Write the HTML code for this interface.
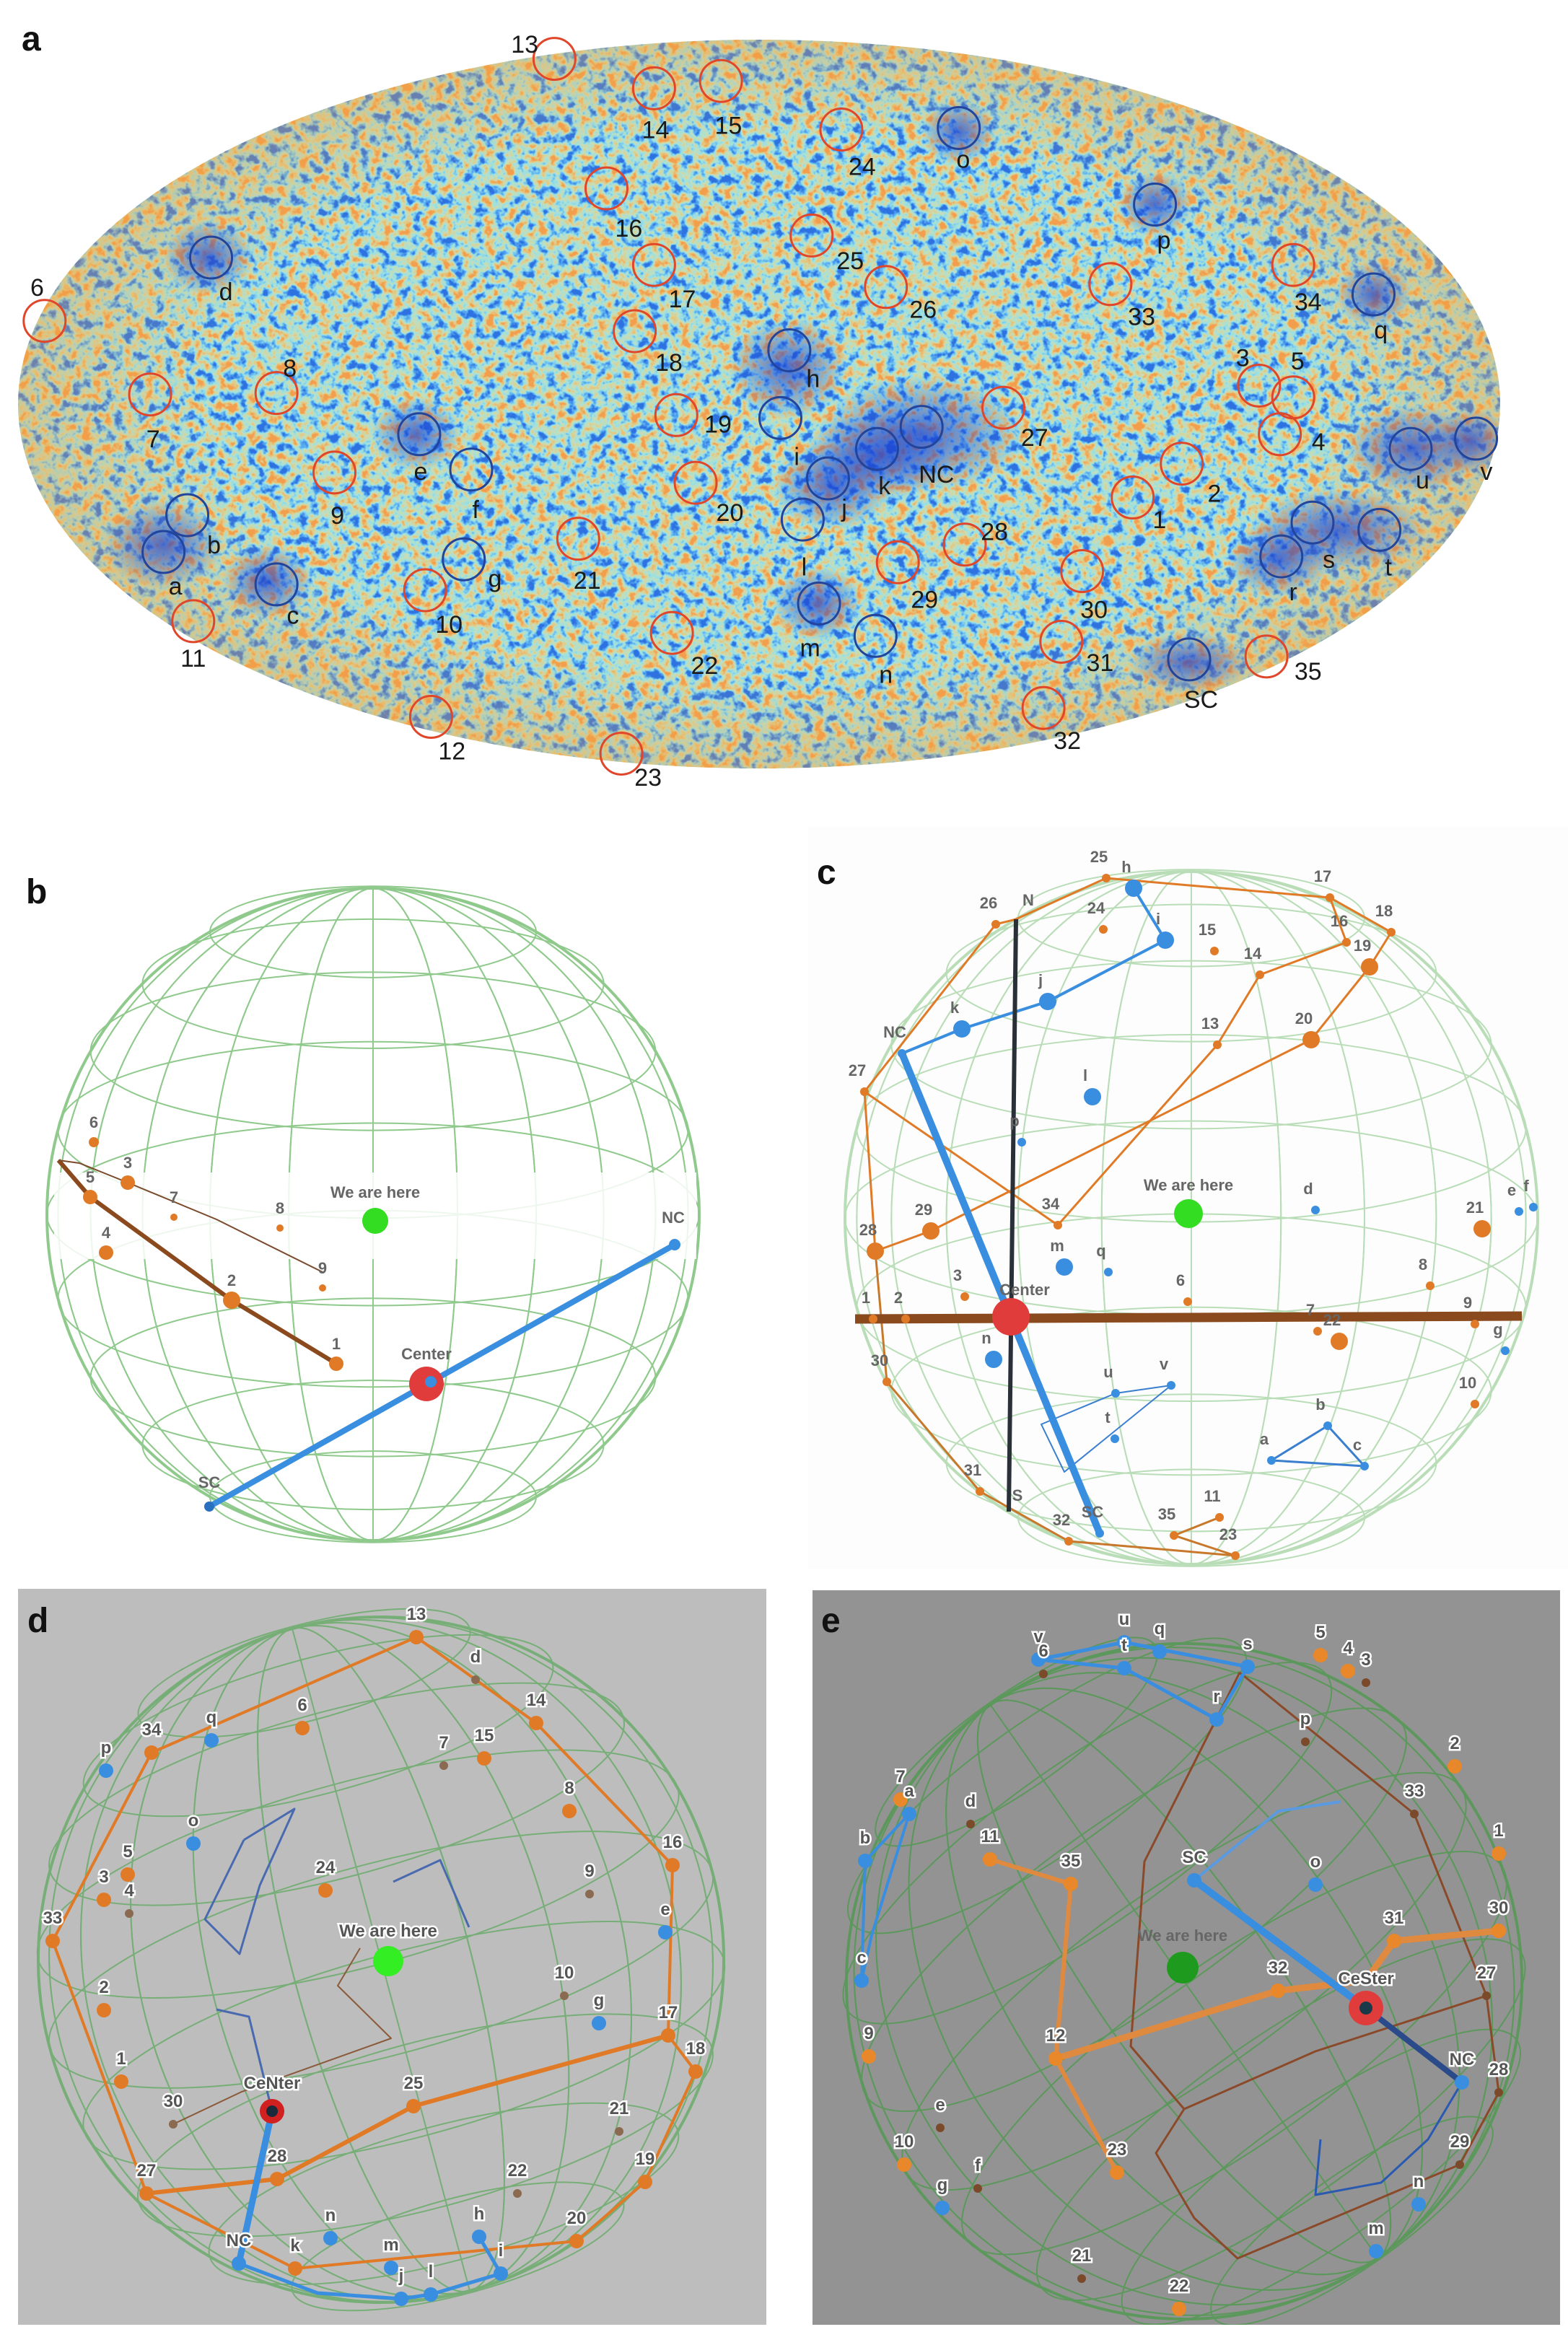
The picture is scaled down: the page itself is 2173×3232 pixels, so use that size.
<!DOCTYPE html>
<html><head><meta charset="utf-8"><title>Cosmic structure figure</title>
<style>
html,body{margin:0;padding:0;background:#fff;width:2173px;height:3232px;overflow:hidden;}
svg{display:block;font-family:"Liberation Sans",Arial,sans-serif;}
.lbl{font-size:34px;fill:#1a1a1a;}
.pl{font-weight:bold;font-size:48px;fill:#111;}
.sl{font-size:22px;fill:#666;font-weight:bold;}
.wl{font-size:24px;font-weight:bold;fill:#555;stroke:#fff;stroke-width:5px;paint-order:stroke;}
</style></head><body>
<svg id="fig" width="2173" height="3232" viewBox="0 0 2173 3232" xmlns="http://www.w3.org/2000/svg" style="overflow:hidden">
<defs>
<filter id="cmb" x="0" y="0" width="100%" height="100%" color-interpolation-filters="sRGB">
<feTurbulence type="fractalNoise" baseFrequency="0.07" numOctaves="3" seed="7" result="n"/>
<feColorMatrix type="matrix" values="1 0 0 0 0 1 0 0 0 0 1 0 0 0 0 0 0 0 0 1"/>
<feComponentTransfer><feFuncR type="linear" slope="2.2" intercept="-0.6"/><feFuncG type="linear" slope="2.2" intercept="-0.6"/><feFuncB type="linear" slope="2.2" intercept="-0.6"/></feComponentTransfer>
<feComponentTransfer>
<feFuncR type="table" tableValues="0.18 0.35 0.6 0.78 0.9 0.95"/>
<feFuncG type="table" tableValues="0.45 0.68 0.88 0.87 0.78 0.62"/>
<feFuncB type="table" tableValues="0.88 0.95 0.9 0.72 0.5 0.3"/>
<feFuncA type="table" tableValues="1 1"/>
</feComponentTransfer>
</filter>
<clipPath id="ellclip"><ellipse cx="1052" cy="560" rx="1027" ry="505"/></clipPath>
<clipPath id="clipD"><rect x="25" y="2202" width="1037" height="1020"/></clipPath>
<clipPath id="clipE"><rect x="1126" y="2204" width="1036" height="1018"/></clipPath>
<radialGradient id="dblue"><stop offset="0" stop-color="#1c3fd0" stop-opacity="0.7"/><stop offset="1" stop-color="#1c3fd0" stop-opacity="0"/></radialGradient>
<radialGradient id="oring" cx="0.5" cy="0.5" r="0.5"><stop offset="0.75" stop-color="#f0a040" stop-opacity="0"/><stop offset="1" stop-color="#f0a040" stop-opacity="0.35"/></radialGradient>
</defs>
<rect width="2173" height="3232" fill="#fff"/>
<g id="panelA">
 <g clip-path="url(#ellclip)">
  <rect x="25" y="55" width="2055" height="1012" filter="url(#cmb)"/>
  <ellipse cx="1052" cy="560" rx="1027" ry="505" fill="url(#oring)"/>
  <g id="blobs"></g>
 </g>
 <text x="30" y="70" class="pl">a</text>
 <g id="circlesA"></g>
</g>
<g id="panelB">
 <text x="36" y="1252" class="pl">b</text>
</g>
<rect x="1120" y="1145" width="1053" height="1030" fill="#fdfdfd"/>
<g id="panelC">
 <text x="1132" y="1225" class="pl">c</text>
</g>
<rect x="25" y="2202" width="1037" height="1020" fill="#bdbdbd"/>
<g id="panelD" clip-path="url(#clipD)">
 <text x="38" y="2262" class="pl">d</text>
</g>
<rect x="1126" y="2204" width="1036" height="1018" fill="#939393"/>
<g id="panelE" clip-path="url(#clipE)">
 <text x="1138" y="2262" class="pl">e</text>
</g>
</svg>
<script>
const NS="http://www.w3.org/2000/svg";
function mk(tag,attrs,parent){const e=document.createElementNS(NS,tag);for(const k in attrs)e.setAttribute(k,attrs[k]);parent.appendChild(e);return e;}

// ---- Panel a data (displayed-scale coordinates) ----
const redNames=["13","14","15","24","16","25","17","26","33","34","6","18","7","8","3","5","4","27","19","9","2","20","1","21","28","29","30","10","11","22","31","35","32","12","23"];
const redPos=[[373,40],[440,60],[485,55],[566,88],[408,128],[546,160],[440,180],[596,195],[747,193],[870,180],[30,218],[427,225],[101,268],[186,267],[847,262],[870,270],[861,295],[675,277],[455,282],[225,321],[795,315],[468,328],[762,338],[389,366],[649,370],[604,382],[728,388],[286,401],[130,422],[452,430],[714,436],[852,446],[702,481],[290,487],[418,512]];
const redLbl=[[353,30],[441,88],[490,85],[580,113],[423,155],[572,177],[459,203],[621,210],[768,215],[880,205],[25,195],[450,246],[103,298],[195,250],[836,243],[873,245],[887,300],[696,297],[483,288],[227,350],[817,335],[491,348],[780,353],[395,394],[669,361],[622,407],[736,414],[302,424],[130,447],[474,452],[740,450],[880,456],[718,503],[304,510],[436,528]];
const blueNames=["o","p","d","q","h","i","NC","k","j","u","v","e","f","b","a","s","t","r","l","g","c","m","n","SC"];
const bluePos=[[645,87],[777,139],[142,175],[924,200],[531,238],[525,284],[620,290],[590,305],[557,325],[949,305],[993,298],[282,295],[317,319],[126,350],[110,375],[883,355],[928,360],[862,378],[540,353],[312,380],[186,397],[551,410],[589,432],[800,448]];
const blueLbl=[[648,108],[783,163],[152,198],[929,224],[547,257],[536,310],[630,322],[595,330],[568,345],[957,326],[1000,320],[283,320],[320,346],[144,370],[118,398],[894,380],[934,385],[870,402],[541,385],[333,393],[197,418],[545,440],[596,458],[808,475]];
const blobPos=[[620,295,70,40],[590,310,50,30],[560,330,40,30],[530,250,40,35],[950,305,45,30],[900,360,60,28],[860,380,35,25],[800,450,40,20],[110,370,40,30],[180,395,30,25],[280,295,30,25],[550,410,30,25],[990,300,25,22],[140,175,30,25],[645,90,25,22],[777,139,25,22],[924,200,25,22]];
const SX=2.06, SY=2.04;
const blobs=document.getElementById('blobs');
blobPos.forEach(b=>{const e=mk('ellipse',{cx:b[0]*SX,cy:b[1]*SY,rx:b[2]*SX,ry:b[3]*SY,fill:'url(#dblue)'},blobs);

});
const cA=document.getElementById('circlesA');
redNames.forEach((n,i)=>{const c=mk('circle',{cx:redPos[i][0]*SX,cy:redPos[i][1]*SY,r:29,fill:'none',stroke:'#e0462a','stroke-width':3},cA);


const t=mk('text',{x:redLbl[i][0]*SX,y:redLbl[i][1]*SY+12,'text-anchor':'middle',class:'lbl'},cA);t.textContent=n;

});
blueNames.forEach((n,i)=>{const c=mk('circle',{cx:bluePos[i][0]*SX,cy:bluePos[i][1]*SY,r:29,fill:'none',stroke:'#22449a','stroke-width':3},cA);


const t=mk('text',{x:blueLbl[i][0]*SX,y:blueLbl[i][1]*SY+12,'text-anchor':'middle',class:'lbl'},cA);t.textContent=n;

});

// ---- sphere grid ----
function grid(parent,cx,cy,r,rot,col,op){
 const g=mk('g',{transform:`rotate(${rot} ${cx} ${cy})`,fill:'none',stroke:col,'stroke-width':2,opacity:op},parent);
 
 
 mk('circle',{cx:cx,cy:cy,r:r,'stroke-width':4},g);
 for(let k=1;k<12;k++){const a=k*Math.PI/12;mk('ellipse',{cx:cx,cy:cy,rx:Math.abs(r*Math.cos(a)),ry:r},g);}
 for(let k=-4;k<=4;k++){const a=k*Math.PI/12;const y=cy+r*Math.sin(a);const rx=r*Math.cos(a);
  mk('ellipse',{cx:cx,cy:y,rx:rx,ry:rx*0.28},g);}
}
function dot(parent,x,y,r,col,name){const c=mk('circle',{cx:x,cy:y,r:r,fill:col},parent);
 
 }
function line(parent,pts,col,w,name){const p=mk('polyline',{points:pts.map(q=>q.join(',')).join(' '),fill:'none',stroke:col,'stroke-width':w,'stroke-linejoin':'round'},parent);
 
 }
function txt(parent,x,y,s,cls,name){const t=mk('text',{x:x,y:y,'text-anchor':'middle',class:cls},parent);t.textContent=s;
 
 }

// ---- Panel b ----
const pB=document.getElementById('panelB');
grid(pB,517,1683,452,0,'#6ab866',0.75);
mk('rect',{x:75,y:1625,width:890,height:120,fill:'#fff',opacity:0.85},pB);
const bNames=["6","5","3","7","4","8","9","2","1"];
const bPts=[[130,1583],[125,1659],[177,1639],[241,1687],[147,1736],[388,1702],[447,1785],[321,1802],[466,1890]];
const bSize=[7,10,10,5,10,5,5,12,10];
line(pB,[[81,1608],[125,1659],[321,1802],[466,1890]],'#8a4a1e',6,'brown-thick-curve');
line(pB,[[81,1608],[110,1612],[177,1639],[300,1690],[449,1764]],'#7a4a2a',2,'brown-thin-curve');
bNames.forEach((n,i)=>{dot(pB,bPts[i][0],bPts[i][1],bSize[i],'#e07a26','point-'+n);txt(pB,bPts[i][0],bPts[i][1]-20,n,'sl','point-label-'+n);});
line(pB,[[290,2088],[935,1725]],'#3a8ee0',8,'sc-nc-axis');
dot(pB,591,1918,24,'#e03c3c','center-marker');dot(pB,597,1915,8,'#3a8ee0','center-core');
dot(pB,290,2088,7,'#2a70c0','sc-point');dot(pB,935,1725,8,'#3a8ee0','nc-point');
txt(pB,591,1884,'Center','sl','center-label');txt(pB,290,2062,'SC','sl','sc-label');txt(pB,933,1695,'NC','sl','nc-label');
dot(pB,520,1692,18,'#33dd22','we-are-here-marker');txt(pB,520,1660,'We are here','sl','we-are-here-label');

// ---- Panel c ----
const pC=document.getElementById('panelC');
grid(pC,1651,1688,480,0,'#8cc88a',0.6);
const cNames=["25","h","i","17","16","18","19","20","26","NC","k","j","27","28","29","34","13","14","15","24","l","p","m","q","6","3","d","21","e","f","8","9","22","7","g","10","30","n","31","32","SC","35","11","23","u","v","t","a","b","c","1","2"];
const cPts=[[1533,1217],[1571,1231],[1615,1303],[1843,1244],[1866,1306],[1928,1292],[1898,1340],[1817,1441],[1380,1281],[1250,1460],[1333,1426],[1452,1388],[1198,1513],[1213,1734],[1290,1706],[1466,1698],[1687,1448],[1746,1351],[1683,1318],[1529,1288],[1514,1520],[1416,1583],[1475,1756],[1536,1763],[1646,1804],[1337,1797],[1823,1677],[2054,1703],[2105,1679],[2125,1673],[1982,1782],[2044,1835],[1856,1859],[1826,1845],[2086,1872],[2044,1946],[1229,1915],[1377,1884],[1358,2067],[1481,2136],[1524,2125],[1627,2128],[1690,2103],[1712,2156],[1546,1931],[1623,1920],[1545,1994],[1762,2024],[1840,1976],[1891,2032],[1210,1828],[1255,1828]];
const cBlue="h i NC k j l p m q d e f g n SC u v t a b c".split(" ");
const cBig=["h","i","k","j","l","m","n","20","29","28","22","21","19"];
line(pC,[[1198,1513],[1380,1281],[1408,1274],[1533,1217],[1843,1244],[1928,1292],[1898,1340],[1817,1441],[1290,1706],[1213,1734],[1198,1513],[1466,1698],[1687,1448],[1746,1351],[1866,1306],[1843,1244]],'#e07a26',3,'orange-path-top');
line(pC,[[1213,1734],[1229,1915],[1358,2067],[1481,2136],[1712,2156],[1627,2128],[1690,2103]],'#c8782a',3,'orange-path-bottom');
line(pC,[[1250,1460],[1333,1426],[1452,1388],[1615,1303],[1571,1231]],'#3a8ee0',4,'blue-path-nc');
line(pC,[[1546,1931],[1623,1920],[1475,2040],[1443,1974],[1546,1931]],'#3a7ed0',2,'blue-path-uvt');
line(pC,[[1762,2024],[1840,1976],[1891,2032],[1762,2024]],'#3a7ed0',3,'blue-path-abc');
line(pC,[[1185,1828],[2109,1824]],'#8a4a1e',13,'brown-equator-bar');
line(pC,[[1408,1274],[1398,2095]],'#2a3038',6,'north-south-axis');
line(pC,[[1250,1460],[1524,2125]],'#3a8ee0',10,'nc-sc-axis');
cNames.forEach((n,i)=>{const b=cBlue.includes(n);dot(pC,cPts[i][0],cPts[i][1],cBig.includes(n)?12:6,b?'#3a8ee0':'#e07a26','point-'+n);txt(pC,cPts[i][0]-10,cPts[i][1]-22,n,'sl','point-label-'+n);});
dot(pC,1401,1825,26,'#e03c3c','center-marker');txt(pC,1420,1795,'Center','sl','center-label');
txt(pC,1425,1255,'N','sl','n-label');txt(pC,1410,2080,'S','sl','s-label');
dot(pC,1647,1682,20,'#33dd22','we-are-here-marker');txt(pC,1647,1650,'We are here','sl','we-are-here-label');

// ---- Panel d ----
const pD=document.getElementById('panelD');
grid(pD,528,2716,475,-15,'#5aa85a',0.7);
const dNames=["13","d","14","34","q","6","p","15","7","8","o","16","24","5","3","4","9","e","33","10","2","g","17","18","1","25","30","21","28","19","27","22","NC","n","h","20","k","m","j","l","i"];
const dPts=[[577,2269],[659,2328],[743,2388],[210,2429],[293,2412],[419,2395],[147,2454],[671,2437],[615,2447],[789,2510],[268,2555],[932,2585],[451,2620],[177,2598],[144,2633],[179,2652],[817,2625],[922,2678],[73,2690],[782,2766],[144,2786],[830,2804],[926,2821],[964,2871],[168,2885],[573,2919],[240,2944],[858,2954],[384,3020],[894,3024],[203,3040],[717,3040],[331,3137],[458,3102],[664,3100],[799,3106],[409,3144],[542,3143],[556,3186],[597,3180],[694,3151]];
const dBlue="q p o e g NC n h m j l i".split(" ");
const dOr="13 14 34 15 16 24 33 17 18 25 28 19 27 20 k 6 8 5 3 2 1".split(" ");
line(pD,[[577,2269],[743,2388],[932,2585],[926,2821],[964,2871],[894,3024],[799,3106],[409,3144],[203,3040],[73,2690],[210,2429],[577,2269]],'#e07a26',4,'orange-outline-loop');
line(pD,[[203,3040],[384,3020],[573,2919],[926,2821]],'#e07a26',6,'orange-cross-path');
line(pD,[[240,2944],[335,2899],[542,2825],[468,2752],[499,2700]],'#8a5a3a',2,'brown-path');
line(pD,[[338,2550],[408,2507],[360,2613],[332,2708],[284,2660],[338,2550]],'#4a6ab0',3,'blue-path-uvr');
line(pD,[[545,2608],[610,2578],[650,2671]],'#4a6ab0',3,'blue-path-abc');
line(pD,[[300,2785],[345,2795],[377,2926]],'#4a6ab0',3,'blue-path-sc');
line(pD,[[377,2926],[331,3137]],'#3a8ee0',9,'center-nc-axis');
line(pD,[[331,3137],[440,3178],[556,3186],[597,3180],[694,3151],[664,3100]],'#3a8ee0',5,'blue-path-bottom');
dNames.forEach((n,i)=>{const b=dBlue.includes(n);const o=dOr.includes(n);dot(pD,dPts[i][0],dPts[i][1],(b||o)?10:6,b?'#3a8ee0':(o?'#e07a26':'#8a6a50'),'point-'+n);txt(pD,dPts[i][0],dPts[i][1]-24,n,'wl','point-label-'+n);});
dot(pD,377,2926,17,'#d02020','center-marker');dot(pD,377,2926,8,'#1a2a3a','center-core');txt(pD,377,2895,'CeNter','wl','center-label');
dot(pD,538,2718,21,'#33ee22','we-are-here-marker');txt(pD,538,2684,'We are here','wl','we-are-here-label');

// ---- Panel e ----
const pE=document.getElementById('panelE');
grid(pE,1641,2746,468,-35,'#4a9a4a',0.75);
const eNames=["v","u","s","r","t","q","6","5","4","3","2","1","30","33","27","28","29","n","m","22","21","10","g","f","e","9","d","7","a","b","c","o","p","11","35","12","23","32","31","SC","NC"];
const ePts=[[1439,2300],[1558,2276],[1729,2310],[1686,2383],[1558,2312],[1607,2289],[1446,2320],[1830,2294],[1868,2316],[1893,2332],[2016,2448],[2077,2569],[2077,2676],[1960,2514],[2060,2766],[2077,2900],[2023,3000],[1966,3055],[1907,3120],[1634,3200],[1499,3158],[1253,3000],[1306,3060],[1355,3033],[1303,2949],[1204,2850],[1345,2528],[1248,2494],[1260,2514],[1199,2579],[1194,2745],[1823,2612],[1809,2414],[1372,2577],[1484,2611],[1463,2853],[1548,3011],[1771,2759],[1932,2690],[1655,2606],[2026,2886]];
const eBlue="v u s r t q n m g a b c o SC NC".split(" ");
const eOr="5 4 2 1 30 22 10 9 7 11 35 12 23 32 31".split(" ");
line(pE,[[1718,2318],[1586,2580],[1567,2836],[1641,2923],[1602,2984],[1655,3074],[1715,3130],[2023,3000],[2077,2900],[2060,2766],[1960,2514],[1718,2318]],'#8a4a2a',3,'brown-loop');
line(pE,[[1641,2923],[1823,2843],[2060,2766]],'#8a4a2a',3,'brown-cross');
line(pE,[[1372,2577],[1484,2611],[1463,2853],[1548,3011]],'#e08a40',6,'orange-path-left');
line(pE,[[1463,2853],[1771,2759],[1893,2745],[1932,2690],[2077,2676]],'#e08a40',9,'orange-path-cross');
line(pE,[[1439,2300],[1558,2276],[1729,2310],[1686,2383],[1558,2312],[1439,2300]],'#3a8ee0',5,'blue-path-top');
line(pE,[[1260,2514],[1199,2579],[1194,2745],[1208,2682],[1260,2514]],'#3a8ee0',4,'blue-path-left');
line(pE,[[1655,2606],[1772,2510],[1858,2497]],'#5a9ae0',4,'blue-path-sc');
line(pE,[[1655,2606],[1893,2783]],'#3a8ee0',10,'sc-center-axis');
line(pE,[[1893,2783],[2026,2886]],'#2a4a8a',8,'center-nc-axis');
line(pE,[[2026,2886],[1979,2965],[1914,3025],[1823,3042],[1830,2965]],'#2a5ab0',3,'blue-path-bottom');
eNames.forEach((n,i)=>{const b=eBlue.includes(n);const o=eOr.includes(n);dot(pE,ePts[i][0],ePts[i][1],(b||o)?10:6,b?'#3a8ee0':(o?'#e8882a':'#7a4a2a'),'point-'+n);txt(pE,ePts[i][0],ePts[i][1]-24,n,'wl','point-label-'+n);});
dot(pE,1893,2783,24,'#e03c3c','center-marker');dot(pE,1893,2783,9,'#1a3a4a','center-core');txt(pE,1893,2750,'CeSter','wl','center-label');
dot(pE,1639,2727,22,'#1e9a1e','we-are-here-marker');txt(pE,1639,2690,'We are here','sl','we-are-here-label');
</script>
</body></html>
